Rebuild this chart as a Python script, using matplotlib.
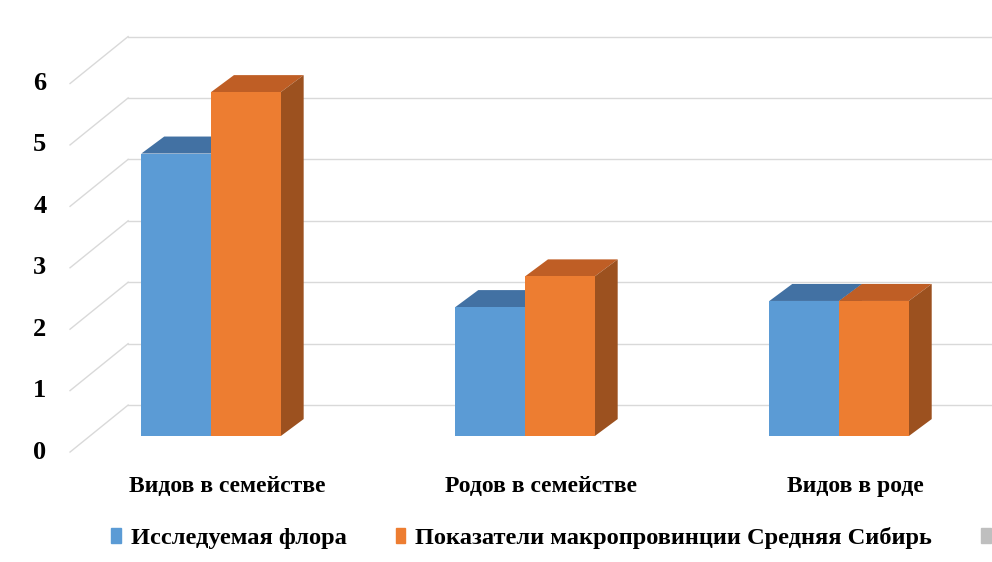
import matplotlib

matplotlib.use("Agg")
import matplotlib.pyplot as plt
import matplotlib.patches as mpatches
import matplotlib.transforms as mtransforms
import numpy as np

# данные
categories = ["Видов в семействе", "Родов в семействе", "Видов в роде"]
series_names = ["Исследуемая флора", "Показатели макропровинции Средняя Сибирь"]
flora = [4.6, 2.1, 2.2]
siberia = [5.6, 2.6, 2.2]
y_ticks = [0, 1, 2, 3, 4, 5, 6]

front_colors = ["#5B9BD5", "#ED7D31"]
top_colors = ["#4271A3", "#BF5E25"]
side_colors = ["#3E6A98", "#9C511F"]

plt.rcParams["font.family"] = ["Liberation Serif", "DejaVu Serif"]

fig = plt.figure(figsize=(9.92, 5.62), dpi=100)
ax = fig.add_axes([0, 0, 1, 1])
ax.set_xlim(-0.672, 2.487)
ax.set_ylim(-2.05, 7.10)
ax.axis("off")

# 3D-смещения (в единицах данных)
bar_w = 0.222
depth_x, depth_y = 0.073, 0.277
floor_front_x, floor_back_x = -0.449, -0.264
floor_front_y, floor_back_y = -0.26, 0.505

# сетка: задняя стенка и боковые диагонали
for v in y_ticks:
    ax.plot([floor_front_x, floor_back_x], [v + floor_front_y, v + floor_back_y],
            color="#D9D9D9", lw=1, zorder=1)
    ax.plot([floor_back_x, ax.get_xlim()[1]], [v + floor_back_y, v + floor_back_y],
            color="#D9D9D9", lw=1, zorder=1)
    ax.text(-0.545, v + floor_front_y, str(v), ha="center", va="center",
            fontsize=19, fontweight="bold")

x = np.arange(len(categories))
for s, values in enumerate([flora, siberia]):
    for i, v in enumerate(values):
        x0 = x[i] - bar_w + s * bar_w
        x1 = x0 + bar_w
        z = 2 + s
        ax.bar(x0, v, width=bar_w, align="edge", color=front_colors[s], zorder=z + 0.2)
        top = [(x0, v), (x1, v), (x1 + depth_x, v + depth_y), (x0 + depth_x, v + depth_y)]
        ax.add_patch(mpatches.Polygon(top, closed=True, color=top_colors[s], lw=0, zorder=z))
        side = [(x1, 0), (x1 + depth_x, depth_y), (x1 + depth_x, v + depth_y), (x1, v)]
        ax.add_patch(mpatches.Polygon(side, closed=True, color=side_colors[s], lw=0, zorder=z))

# подписи категорий
lbl_trans = mtransforms.offset_copy(ax.transData, fig=fig, x=16, y=0, units="dots")
for i, name in enumerate(categories):
    ax.text(x[i], -0.82, name, transform=lbl_trans, ha="center", va="center",
            fontsize=17, fontweight="bold")

# легенда
handles = [mpatches.Patch(color=front_colors[0], label=series_names[0]),
           mpatches.Patch(color=front_colors[1], label=series_names[1]),
           mpatches.Patch(color="#BFBFBF", label="")]
fig.legend(handles=handles, loc="center left", bbox_to_anchor=(0.09, 1 - 538 / 562),
           ncol=3, frameon=False, handlelength=0.4, handleheight=0.55,
           handletextpad=0.4, columnspacing=2.0,
           prop={"size": 17.6, "weight": "bold"})

fig.savefig("out.png", dpi=100)
